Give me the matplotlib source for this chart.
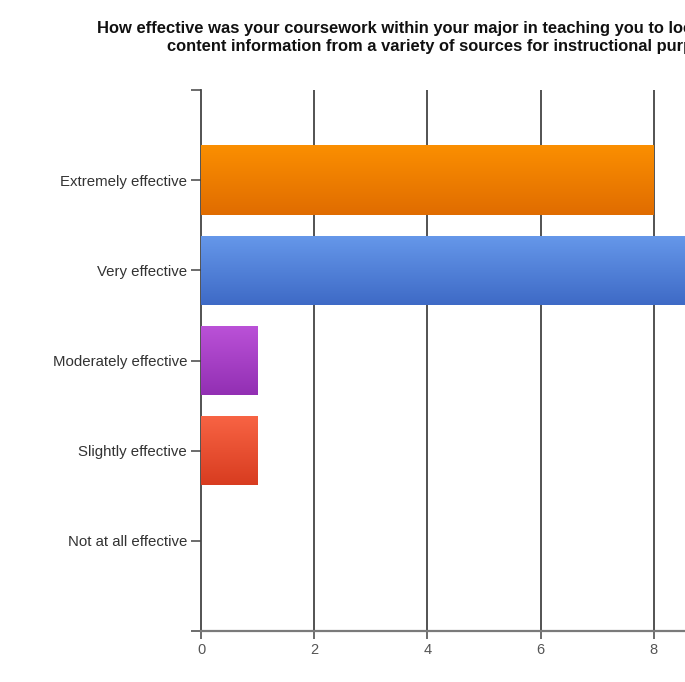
import numpy as np
import matplotlib.pyplot as plt
from matplotlib.colors import LinearSegmentedColormap

categories = ["Extremely effective", "Very effective", "Moderately effective",
              "Slightly effective", "Not at all effective"]
counts = [8, 9, 1, 1, 0]
x_ticks = [0, 2, 4, 6, 8]
title_lines = ["How effective was your coursework within your major in teaching you to locate and use",
               "content information from a variety of sources for instructional purposes?"]

# top / bottom colours of each bar's vertical gradient
bar_colors = [("#fb8f00", "#e06c00"),
              ("#6698ea", "#3e6ac6"),
              ("#bb52d8", "#922fb3"),
              ("#f86444", "#d83c20"),
              ("#ffffff", "#ffffff")]

plt.rcParams["font.family"] = ["Liberation Sans", "DejaVu Sans"]

fig = plt.figure(figsize=(6.85, 6.82), dpi=100)
fig.patch.set_facecolor("white")
ax = fig.add_axes([201 / 685, 51 / 682, 566 / 685, 541 / 682])

y = np.arange(len(categories))
bars = ax.barh(y, counts, height=0.77, color="none", edgecolor="none", zorder=3)

grad = np.linspace(0, 1, 256).reshape(-1, 1)
for bar, val, cols in zip(bars, counts, bar_colors):
    if val <= 0:
        continue
    cmap = LinearSegmentedColormap.from_list("g", [cols[0], cols[1]])
    x0, y0 = bar.get_x(), bar.get_y()
    w, h = bar.get_width(), bar.get_height()
    im = ax.imshow(grad, cmap=cmap, aspect="auto", extent=(x0, x0 + w, y0 + h, y0),
                   zorder=3, interpolation="bilinear")
    im.set_clip_path(bar)

ax.set_xlim(0, 10)
ax.set_ylim(5, -1)

for xv in x_ticks[1:]:
    ax.axvline(xv, color="#444444", lw=1.3, zorder=1)

for side in ("top", "right"):
    ax.spines[side].set_visible(False)
ax.spines["left"].set_color("#444444")
ax.spines["bottom"].set_color("#7a7a7a")
ax.spines["left"].set_linewidth(1.3)
ax.spines["bottom"].set_linewidth(1.6)

ax.set_yticks(y)
ax.set_yticklabels(categories, fontsize=10.8, color="#333333")
ax.set_yticks([-1, 5], minor=True)
ax.tick_params(axis="y", which="both", length=7, width=1.1, color="#444444", pad=3)
ax.set_xticks(x_ticks)
ax.set_xticklabels([str(v) for v in x_ticks], fontsize=10.5, color="#555555")
ax.tick_params(axis="x", length=6, width=1.1, color="#444444", pad=3)

fig.text(97 / 685, 1 - 28 / 682, title_lines[0], ha="left", va="center", fontsize=11.9,
         fontweight="bold", color="#111111")
fig.text(167 / 685, 1 - 47 / 682, title_lines[1], ha="left", va="center", fontsize=11.9,
         fontweight="bold", color="#111111")

fig.savefig("out.png", dpi=100, facecolor="white")
